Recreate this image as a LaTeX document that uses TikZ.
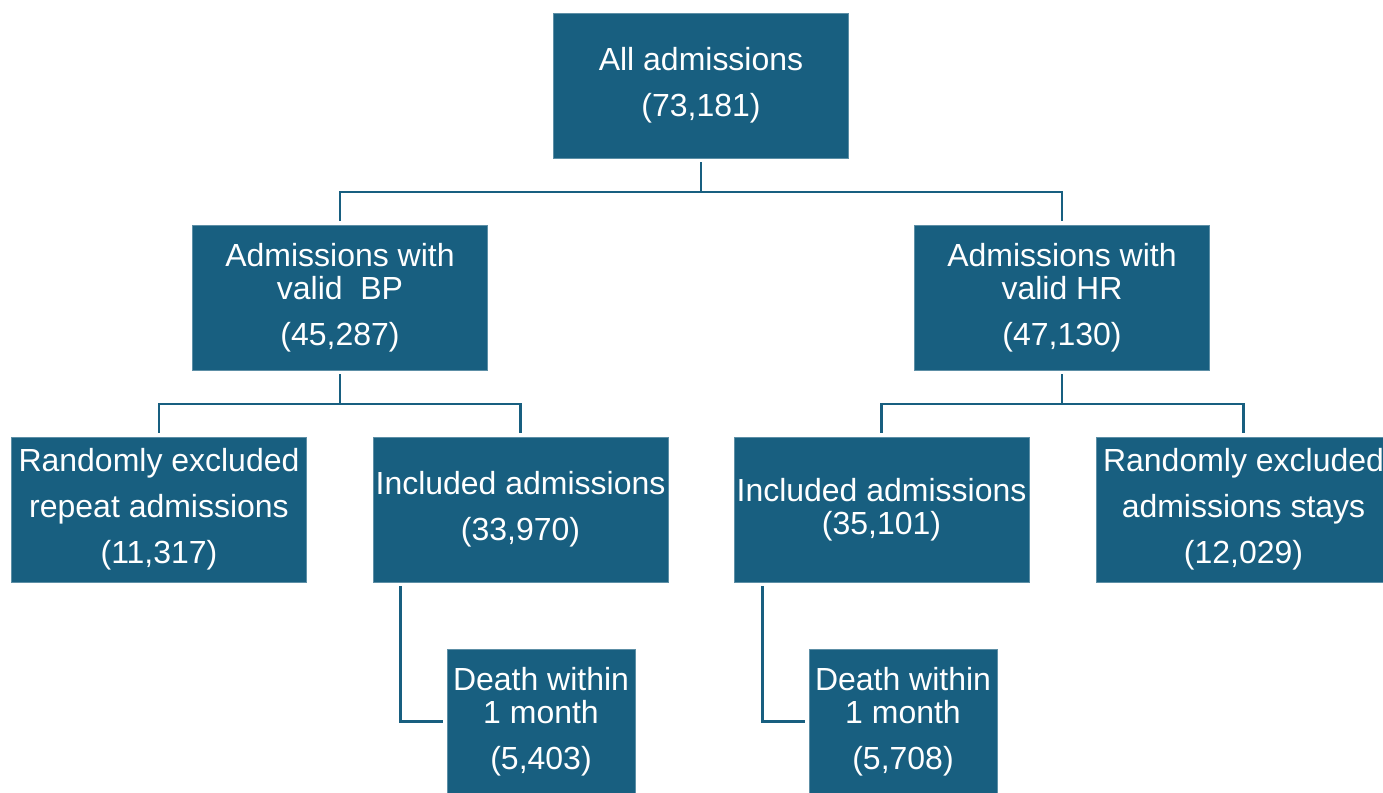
\documentclass[tikz,border=0pt]{standalone}
\usepackage{fontspec}
\setmainfont{Liberation Sans}
\usetikzlibrary{%
  arrows,
  calc
}
\definecolor{boxblue}{RGB}{24,95,128}

\begin{document}
\begin{tikzpicture}[yscale=1, xscale=1,
    box/.style={rectangle, fill=boxblue, draw=boxblue!70!white, line width=0.4pt,
      text=white, align=center, inner sep=0pt,
      minimum width=5.9cm, minimum height=2.9cm,
      font=\fontsize{18.2}{18.8}\selectfont},
    smallbox/.style={box, minimum width=3.76cm},
    link/.style={draw=boxblue, line width=1.5pt,
      shorten <=0.08cm, shorten >=0.08cm}]
    \useasboundingbox (0,0) rectangle (27.66,-15.84);

    % top
    \node[box] (all) at (14.02,-1.71) {All admissions\\[7.4pt](73,181)};

    % second row
    \node[box] (bp) at (6.80,-5.95) {Admissions with\\valid\ \ BP\\[7.4pt](45,287)};
    \node[box] (hr) at (21.24,-5.95) {Admissions with\\valid HR\\[7.4pt](47,130)};

    % third row
    \node[box] (exclBP) at (3.18,-10.19) {Randomly excluded\\[7.4pt]repeat admissions\\[7.4pt](11,317)};
    \node[box] (inclBP) at (10.41,-10.19) {Included admissions\\[7.4pt](33,970)};
    \node[box] (inclHR) at (17.63,-10.19) {Included admissions\\(35,101)};
    \node[box] (exclHR) at (24.87,-10.19) {Randomly excluded\\[7.4pt]admissions stays\\[7.4pt](12,029)};

    % bottom
    \node[smallbox] (deathBP) at (10.82,-14.43) {Death within\\1 month\\[7.4pt](5,403)};
    \node[smallbox] (deathHR) at (18.06,-14.43) {Death within\\1 month\\[7.4pt](5,708)};

    \draw[link] (all.south) -- ++(0,-0.67) -| (bp.north);
    \draw[link] (all.south) -- ++(0,-0.67) -| (hr.north);

    \draw[link] (bp.south) -- ++(0,-0.67) -| (exclBP.north);
    \draw[link] (bp.south) -- ++(0,-0.67) -| (inclBP.north);
    \draw[link] (hr.south) -- ++(0,-0.67) -| (inclHR.north);
    \draw[link] (hr.south) -- ++(0,-0.67) -| (exclHR.north);

    \draw[link] ([xshift=0.56cm]inclBP.south west) |- (deathBP.west);
    \draw[link] ([xshift=0.58cm]inclHR.south west) |- (deathHR.west);

  \end{tikzpicture}
\end{document}
